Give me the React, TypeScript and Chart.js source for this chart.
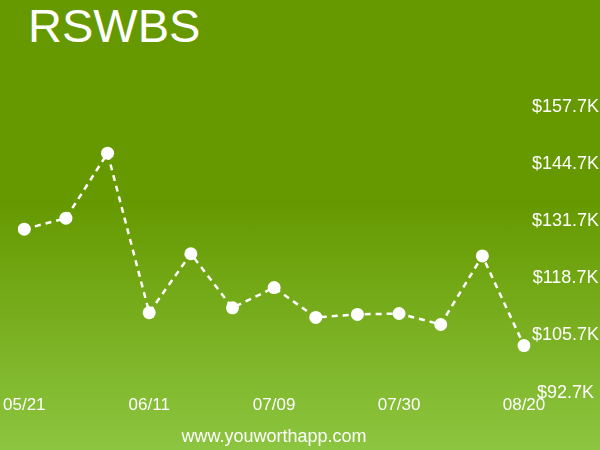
import React, { useEffect, useRef } from "react";
import { Chart, registerables } from "chart.js";

Chart.register(...registerables);

const TITLE = "RSWBS";
const FOOTER = "www.youworthapp.com";

const categories = [
  "05/21", "05/28", "06/04", "06/11", "06/18", "06/25", "07/09",
  "07/16", "07/23", "07/30", "08/06", "08/13", "08/20",
];

const values = [129.9, 132.4, 147.2, 110.9, 124.3, 112.0, 116.6, 109.8, 110.5, 110.7, 108.2, 123.8, 103.4];

const yTicks = [92.7, 105.7, 118.7, 131.7, 144.7, 157.7];

const FONT = "'Liberation Sans', Arial, Helvetica, sans-serif";

export default function App() {
  const ref = useRef<HTMLCanvasElement | null>(null);

  useEffect(() => {
    if (!ref.current) return;
    const chart = new Chart(ref.current, {
      type: "line",
      data: {
        labels: categories,
        datasets: [
          {
            data: values,
            borderColor: "#ffffff",
            borderWidth: 2.5,
            borderDash: [6, 5],
            pointRadius: 6.5,
            pointBackgroundColor: "#ffffff",
            pointBorderColor: "#ffffff",
            pointBorderWidth: 0,
            tension: 0,
            fill: false,
          },
        ],
      },
      options: {
        responsive: false,
        animation: false,
        devicePixelRatio: 1,
        layout: { padding: { left: 24, top: 107, right: 0, bottom: 31 } },
        plugins: {
          legend: { display: false },
          tooltip: { enabled: false },
          title: { display: false },
        },
        scales: {
          x: {
            type: "category",
            offset: false,
            grid: { display: false, drawTicks: false },
            border: { display: false },
            ticks: {
              autoSkip: false,
              maxRotation: 0,
              minRotation: 0,
              padding: 3,
              color: "#ffffff",
              font: { family: FONT, size: 17 },
              callback: (_v: any, i: number) => (i % 3 === 0 ? categories[i] : ""),
            },
          },
          y: {
            position: "right",
            min: yTicks[0],
            max: yTicks[yTicks.length - 1],
            grid: { display: false, drawTicks: false },
            border: { display: false },
            afterBuildTicks: (scale: any) => {
              scale.ticks = yTicks.map((v) => ({ value: v }));
            },
            afterFit: (scale: any) => {
              scale.width = 76;
            },
            ticks: {
              crossAlign: "center",
              padding: 8,
              color: "#ffffff",
              font: { family: FONT, size: 18 },
              callback: (v: any) => "$" + Number(v).toFixed(1) + "K",
            },
          },
        },
      },
    });
    return () => chart.destroy();
  }, []);

  return (
    <div
      style={{
        position: "absolute",
        left: 0,
        top: 0,
        width: 600,
        height: 450,
        overflow: "hidden",
        background: "linear-gradient(to bottom, #669900 0%, #669900 45%, #8cc540 100%)",
        fontFamily: FONT,
      }}
    >
      <div
        style={{
          position: "absolute",
          left: 28,
          top: 2,
          fontSize: 47,
          lineHeight: "47px",
          color: "#ffffff",
          whiteSpace: "nowrap",
        }}
      >
        {TITLE}
      </div>
      <canvas ref={ref} width={600} height={450} style={{ position: "absolute", left: 0, top: 0 }} />
      <div
        style={{
          position: "absolute",
          left: 274 - 150,
          width: 300,
          top: 425,
          fontSize: 18,
          lineHeight: "22px",
          color: "#ffffff",
          textAlign: "center",
          whiteSpace: "nowrap",
        }}
      >
        {FOOTER}
      </div>
    </div>
  );
}
